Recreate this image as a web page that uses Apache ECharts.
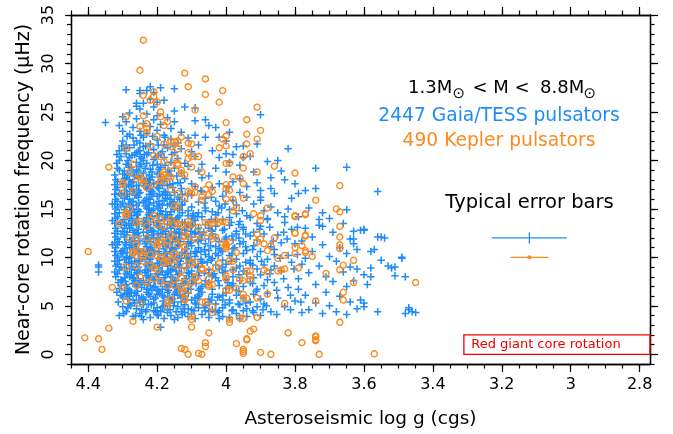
<!DOCTYPE html>
<html>
<head>
<meta charset="utf-8">
<script src="https://cdn.jsdelivr.net/npm/echarts@6/dist/echarts.min.js"></script>
<style>html,body{margin:0;padding:0;background:#fff}#main{width:673px;height:434px}</style>
</head>
<body>
<div id="main"></div>
<script>
// axis ranges and tick positions
var xRange = [2.77, 4.45];
var yRange = [-1, 35];
var xMajor = [2.8, 3, 3.2, 3.4, 3.6, 3.8, 4, 4.2, 4.4];
var xMinor = [2.8, 2.85, 2.9, 2.95, 3, 3.05, 3.1, 3.15, 3.2, 3.25, 3.3, 3.35, 3.4, 3.45, 3.5, 3.55, 3.6,
  3.65, 3.7, 3.75, 3.8, 3.85, 3.9, 3.95, 4, 4.05, 4.1, 4.15, 4.2, 4.25, 4.3, 4.35, 4.4, 4.45];
var yMajor = [0, 5, 10, 15, 20, 25, 30, 35];
var yMinor = [-1, 0, 1, 2, 3, 4, 5, 6, 7, 8, 9, 10, 11, 12, 13, 14, 15, 16, 17, 18, 19, 20, 21, 22, 23, 24,
  25, 26, 27, 28, 29, 30, 31, 32, 33, 34, 35];

// Gaia/TESS pulsators [log g, freq]
var tessPts = [
  // bottom edge
  [4.27,3.9],[4.25,4.2],[4.22,3.8],[4.2,4.1],[4.18,3.7],[4.16,4.0],[4.14,3.8],[4.12,4.3],[4.11,3.9],[4.09,3.7],
  [4.07,4.1],[4.05,3.8],[4.03,4.4],[4.01,3.9],[3.99,3.8],[3.97,4.2],[3.94,3.9],[3.92,4.3],[4.24,3.6],[4.19,4.4],
  [4.15,3.6],[4.13,4.4],[4.1,4.2],[4.06,4.5],[4.02,3.7],[3.96,3.7],[3.9,4.0],[4.29,4.4],[4.21,4.5],[4.17,4.3],
  [4.19,2.8],[4.31,4.0],[4.245,3.9],
  [4.3,4.9],[4.28,5.2],[4.26,4.7],[4.24,5.1],[4.23,4.6],[4.21,5.3],[4.2,4.8],[4.18,5.0],[4.17,4.6],[4.15,5.4],
  [4.14,4.9],[4.12,5.1],[4.11,4.7],[4.09,5.3],[4.08,4.8],[4.06,5.0],[4.04,4.6],[4.03,5.2],[4.01,4.8],[3.99,5.3],
  [3.98,4.6],[3.96,5.1],[3.94,4.7],[3.93,5.4],[3.91,4.9],[4.25,5.4],[4.19,4.5],[4.13,5.4],[4.1,4.6],[4.05,5.4],
  [4.02,4.5],[3.95,4.5],
  [4.3,5.9],[4.29,6.3],[4.27,5.6],[4.26,6.1],[4.24,5.8],[4.23,6.4],[4.21,5.7],[4.2,6.2],[4.18,5.9],[4.17,6.4],
  [4.16,5.6],[4.14,6.1],[4.13,5.8],[4.11,6.3],[4.1,5.6],[4.08,6.0],[4.07,6.4],[4.05,5.7],[4.04,6.2],[4.02,5.9],
  [4.0,6.3],[3.99,5.6],[3.97,6.1],[3.95,5.8],[3.92,6.2],[3.9,5.7],[4.28,6.0],[4.22,6.0],[4.15,6.2],[4.09,5.8],[4.01,5.6],
  [4.31,6.8],[4.29,7.2],[4.28,6.6],[4.26,7.0],[4.25,7.4],[4.23,6.7],[4.22,7.1],[4.2,6.6],[4.19,7.3],[4.17,6.9],
  [4.16,7.4],[4.14,6.6],[4.13,7.1],[4.11,6.8],[4.1,7.3],[4.08,6.6],[4.07,7.0],[4.05,7.4],[4.04,6.7],[4.02,7.1],
  [4.0,6.8],[3.98,7.3],[3.97,6.6],[3.95,7.0],[3.93,7.4],[3.91,6.7],[3.89,7.1],[4.27,7.3],[4.21,6.9],[4.15,7.0],
  [4.12,6.5],[4.06,7.2],[3.99,6.9],
  [4.32,8.0],[4.3,7.6],[4.29,8.3],[4.27,7.8],[4.26,8.4],[4.24,7.6],[4.23,8.1],[4.21,7.7],[4.2,8.3],[4.18,7.9],
  [4.17,8.4],[4.15,7.6],[4.14,8.2],[4.12,7.8],[4.11,8.4],[4.09,7.7],[4.08,8.1],[4.06,7.6],[4.05,8.3],[4.03,7.9],
  [4.01,8.4],[4.0,7.7],[3.98,8.0],[3.96,7.6],[3.94,8.3],[3.92,7.9],[3.9,8.2],[3.88,7.7],[4.28,8.0],[4.22,8.0],
  [4.16,8.0],[4.1,8.0],[4.04,8.1],
  [4.32,9.1],[4.31,8.7],[4.29,9.3],[4.28,8.8],[4.26,9.4],[4.25,8.6],[4.23,9.2],[4.22,8.8],[4.2,9.4],[4.19,8.6],
  [4.17,9.1],[4.16,8.7],[4.14,9.3],[4.13,8.9],[4.11,9.4],[4.1,8.6],[4.08,9.0],[4.07,9.4],[4.05,8.7],[4.03,9.2],
  [4.02,8.8],[4.0,9.3],[3.98,8.7],[3.96,9.1],[3.95,8.6],[3.93,9.4],[3.91,8.8],[3.89,9.2],[3.87,8.7],[4.27,9.0],
  [4.21,9.0],[4.15,9.0],[4.09,9.2],[4.01,9.0],[3.97,8.9],
  [4.32,10.2],[4.31,9.7],[4.3,10.4],[4.28,9.9],[4.27,10.3],[4.25,9.6],[4.24,10.1],[4.22,9.8],[4.21,10.4],[4.19,9.7],
  [4.18,10.2],[4.16,9.6],[4.15,10.3],[4.13,9.9],[4.12,10.4],[4.1,9.7],[4.09,10.1],[4.07,9.6],[4.06,10.3],[4.04,9.9],
  [4.03,10.4],[4.01,9.7],[3.99,10.2],[3.97,9.8],[3.95,10.4],[3.93,9.7],[3.91,10.1],[3.88,9.8],[3.86,10.3],[4.29,10.0],
  [4.23,10.0],[4.17,10.0],[4.11,10.0],[4.05,10.1],
  [4.32,11.0],[4.3,10.7],[4.29,11.3],[4.27,10.8],[4.26,11.4],[4.24,10.6],[4.23,11.1],[4.21,10.7],[4.2,11.3],[4.18,10.9],
  [4.17,11.4],[4.15,10.6],[4.14,11.2],[4.12,10.8],[4.11,11.4],[4.09,10.6],[4.08,11.0],[4.06,11.4],[4.05,10.7],[4.03,11.1],
  [4.01,10.6],[4.0,11.3],[3.98,10.9],[3.96,11.4],[3.94,10.7],[3.92,11.2],[3.9,10.6],[3.87,11.1],[4.28,11.0],[4.22,11.0],
  [4.16,11.0],[4.1,11.2],[4.02,10.9],
  [4.32,12.1],[4.31,11.6],[4.29,12.3],[4.28,11.8],[4.26,12.4],[4.25,11.7],[4.23,12.2],[4.22,11.6],[4.2,12.0],[4.19,12.4],
  [4.17,11.7],[4.16,12.2],[4.14,11.8],[4.13,12.4],[4.11,11.6],[4.1,12.1],[4.08,11.7],[4.07,12.3],[4.05,11.9],[4.04,12.4],
  [4.02,11.6],[4.0,12.1],[3.98,11.8],[3.97,12.4],[3.95,11.6],[3.93,12.2],[3.91,11.8],[3.89,12.4],[4.27,12.0],[4.21,12.0],
  [4.15,12.0],[4.09,12.4],[4.03,12.0],
  [4.32,13.0],[4.3,12.7],[4.29,13.3],[4.27,12.8],[4.26,13.4],[4.24,12.6],[4.23,13.1],[4.21,12.7],[4.2,13.3],[4.18,12.9],
  [4.17,13.4],[4.15,12.6],[4.14,13.2],[4.12,12.8],[4.11,13.4],[4.09,12.6],[4.08,13.0],[4.06,13.4],[4.04,12.7],[4.03,13.2],
  [4.01,12.8],[3.99,13.3],[3.97,12.7],[3.95,13.1],[3.92,12.6],[3.9,13.2],[4.28,13.0],[4.22,13.0],[4.16,13.0],[4.1,13.2],[4.05,13.0],
  [4.32,14.0],[4.3,13.6],[4.29,14.2],[4.27,13.8],[4.26,14.4],[4.24,13.7],[4.23,14.1],[4.21,13.6],[4.2,14.3],[4.18,13.9],
  [4.17,14.4],[4.15,13.7],[4.14,14.1],[4.12,13.6],[4.11,14.3],[4.09,13.8],[4.07,14.2],[4.05,13.6],[4.03,14.4],[4.01,13.9],
  [3.99,14.1],[3.96,13.7],[3.94,14.3],[4.28,14.0],[4.22,14.0],[4.16,14.0],[4.1,14.0],
  [4.32,15.0],[4.31,14.6],[4.29,15.2],[4.28,14.8],[4.26,15.4],[4.25,14.7],[4.23,15.1],[4.22,14.6],[4.2,15.3],[4.19,14.8],
  [4.17,15.4],[4.16,14.7],[4.14,15.0],[4.13,15.4],[4.11,14.8],[4.1,15.2],[4.08,14.6],[4.06,15.1],[4.04,14.7],[4.02,15.3],
  [3.99,14.9],[3.97,15.4],[4.27,15.0],[4.21,15.0],[4.15,14.9],
  [4.32,16.0],[4.3,15.6],[4.29,16.3],[4.27,15.8],[4.26,16.4],[4.24,15.7],[4.23,16.1],[4.21,15.6],[4.2,16.3],[4.18,15.9],
  [4.17,16.4],[4.15,15.7],[4.14,16.2],[4.12,15.8],[4.1,16.4],[4.08,15.7],[4.06,16.1],[4.03,15.8],[4.01,16.3],[4.28,16.0],
  [4.22,16.0],[4.16,16.0],
  [4.32,17.0],[4.31,16.6],[4.29,17.3],[4.28,16.8],[4.26,17.4],[4.25,16.7],[4.23,17.1],[4.21,16.6],[4.2,17.2],[4.18,16.8],
  [4.17,17.4],[4.15,16.7],[4.13,17.1],[4.11,16.6],[4.09,17.3],[4.07,16.8],[4.04,17.2],[4.27,17.0],[4.22,17.0],
  [4.32,18.0],[4.3,17.6],[4.29,18.2],[4.27,17.8],[4.26,18.4],[4.24,17.7],[4.23,18.1],[4.21,17.6],[4.19,18.3],[4.18,17.9],
  [4.16,18.4],[4.14,17.7],[4.12,18.1],[4.1,17.6],[4.07,18.2],[4.28,18.0],[4.22,18.0],
  [4.31,19.0],[4.3,18.6],[4.28,19.3],[4.27,18.8],[4.25,19.4],[4.24,18.7],[4.22,19.1],[4.2,18.6],[4.19,19.3],[4.17,18.8],
  [4.15,19.2],[4.13,18.7],[4.11,19.4],[4.08,18.9],[4.26,19.0],
  [4.31,20.0],[4.29,19.6],[4.28,20.3],[4.26,19.8],[4.25,20.4],[4.23,19.7],[4.21,20.1],[4.2,19.6],[4.18,20.3],[4.16,19.8],
  [4.14,20.2],[4.12,19.7],[4.09,20.4],[4.24,20.0],
  [4.31,21.0],[4.29,20.7],[4.28,21.3],[4.26,20.8],[4.24,21.4],[4.23,20.6],[4.21,21.1],[4.19,20.7],[4.17,21.3],[4.15,20.8],
  [4.13,21.2],[4.1,20.9],[4.25,21.0],
  [4.3,22.0],[4.29,21.6],[4.27,22.3],[4.25,21.8],[4.24,22.4],[4.22,21.7],[4.2,22.1],[4.18,21.6],[4.16,22.2],[4.14,21.8],
  [4.11,22.3],[4.26,22.0],
  // upper part of the cloud
  [4.3,23.0],[4.28,22.7],[4.27,23.4],[4.25,23.0],[4.23,22.8],[4.22,23.5],[4.2,23.1],[4.18,22.6],[4.16,23.3],[4.13,22.9],
  [4.29,24.0],[4.26,24.3],[4.24,23.8],[4.21,24.2],[4.19,23.7],[4.17,24.4],[4.28,24.9],[4.25,25.3],[4.23,24.8],[4.21,25.5],
  [4.2,24.6],[4.24,25.9],[4.22,26.3],[4.2,26.0],[4.25,26.9],[4.23,27.2],[4.22,27.6],[4.21,27.0],[4.29,27.3],[4.18,26.2],
  [4.15,25.1],[4.12,25.5],[4.31,23.6],[4.3,24.5],[4.26,25.6],[4.15,24.0],[4.09,24.1],[4.25,27.2],[4.26,25.9],[4.19,27.5],
  // second pass, densest part
  [4.305,6.1],[4.285,5.7],[4.265,6.3],[4.245,5.9],[4.225,6.2],[4.205,5.8],[4.185,6.1],[4.165,5.9],[4.145,6.4],[4.125,6.0],
  [4.275,6.4],[4.235,5.6],[4.195,6.5],[4.155,5.7],
  [4.305,7.1],[4.285,6.8],[4.265,7.3],[4.245,6.9],[4.225,7.4],[4.205,7.0],[4.185,6.7],[4.165,7.2],[4.145,6.9],[4.125,7.3],
  [4.295,6.6],[4.255,7.2],[4.215,6.6],[4.175,7.0],[4.135,6.8],
  [4.315,8.3],[4.295,7.9],[4.275,8.2],[4.255,7.8],[4.235,8.4],[4.215,8.0],[4.195,7.7],[4.175,8.2],[4.155,7.9],[4.135,8.3],
  [4.115,7.8],[4.305,7.7],[4.265,7.6],[4.225,7.9],[4.185,8.5],[4.145,7.6],
  [4.315,9.3],[4.295,8.9],[4.275,9.4],[4.255,9.0],[4.235,8.7],[4.215,9.3],[4.195,8.9],[4.175,9.4],[4.155,8.8],[4.135,9.2],
  [4.115,8.9],[4.305,9.0],[4.265,8.7],[4.225,9.1],[4.185,9.2],[4.145,8.6],
  [4.315,10.0],[4.295,9.8],[4.275,10.1],[4.255,10.4],[4.235,9.8],[4.215,10.2],[4.195,9.9],[4.175,10.4],[4.155,9.8],[4.135,10.2],
  [4.115,9.9],[4.305,10.4],[4.265,9.6],[4.225,10.3],[4.185,9.6],[4.145,10.0],
  [4.315,11.3],[4.295,10.9],[4.275,11.2],[4.255,10.8],[4.235,11.4],[4.215,11.0],[4.195,10.6],[4.175,11.1],[4.155,10.8],[4.135,11.3],
  [4.115,10.9],[4.305,10.6],[4.265,11.0],[4.225,10.7],[4.185,11.4],[4.145,11.0],
  [4.315,11.9],[4.295,12.1],[4.275,11.7],[4.255,12.2],[4.235,11.9],[4.215,12.3],[4.195,11.8],[4.175,12.1],[4.155,11.6],[4.135,12.0],
  [4.115,12.3],[4.305,12.4],[4.265,11.6],[4.225,12.0],[4.185,12.4],[4.145,11.9],
  [4.315,12.7],[4.295,13.0],[4.275,13.3],[4.255,12.9],[4.235,13.2],[4.215,12.8],[4.195,13.1],[4.175,12.7],[4.155,13.3],[4.135,12.9],
  [4.115,13.1],[4.305,13.4],[4.265,12.6],[4.225,13.4],[4.185,12.9],[4.145,12.6],
  [4.315,14.2],[4.295,13.9],[4.275,14.3],[4.255,14.0],[4.235,13.7],[4.215,14.2],[4.195,13.8],[4.175,14.1],[4.155,13.6],[4.135,14.3],
  [4.305,13.6],[4.265,13.6],[4.225,14.4],[4.185,14.4],[4.145,13.9],
  [4.315,15.2],[4.295,14.9],[4.275,15.3],[4.255,14.9],[4.235,15.3],[4.215,14.8],[4.195,15.1],[4.175,14.7],[4.155,15.3],[4.135,14.9],
  [4.305,15.4],[4.265,14.6],[4.225,15.0],[4.185,15.4],
  [4.315,15.8],[4.295,16.1],[4.275,15.7],[4.255,16.2],[4.235,15.9],[4.215,16.3],[4.195,15.8],[4.175,16.1],[4.155,15.6],[4.135,16.0],
  [4.305,16.4],[4.265,16.4],[4.225,15.6],[4.185,16.4],
  [4.315,17.2],[4.295,16.9],[4.275,17.3],[4.255,16.9],[4.235,17.3],[4.215,16.8],[4.195,17.1],[4.175,16.7],[4.155,17.2],[4.305,16.6],
  [4.265,16.6],[4.225,17.4],[4.185,17.4],
  [4.315,17.8],[4.295,18.1],[4.275,17.7],[4.255,18.2],[4.235,17.9],[4.215,18.3],[4.195,17.8],[4.175,18.1],[4.155,17.6],[4.265,18.4],[4.225,17.6],
  [4.315,19.2],[4.295,18.9],[4.275,19.3],[4.255,18.9],[4.235,19.2],[4.215,18.8],[4.195,19.1],[4.165,18.9],[4.285,18.6],
  [4.305,20.4],[4.285,20.0],[4.265,20.6],[4.245,20.2],[4.225,20.8],[4.205,20.3],[4.185,20.9],[4.295,21.2],[4.255,21.0],
  [4.285,4.8],[4.245,4.6],[4.225,5.2],[4.185,4.9],[4.165,5.3],[4.125,4.7],[4.265,5.3],[4.205,4.4],[4.145,4.4],
  [4.075,6.8],[4.055,9.5],[4.035,8.3],[4.015,10.7],[3.995,7.4],[4.065,12.6],[4.045,11.2],[4.025,5.9],[4.005,12.9],[3.985,9.6],
  [4.085,10.5],[4.06,14.8],[4.03,13.7],[3.975,11.0],[3.965,5.2],[4.095,7.6],[4.095,14.5],[4.05,4.4],[4.01,6.1],[3.985,13.6],
  // third pass, core
  [4.297,4.2],[4.263,4.0],[4.233,4.4],[4.197,4.0],[4.163,4.6],[4.127,4.1],[4.093,4.5],
  [4.313,5.4],[4.277,5.0],[4.253,5.6],[4.217,5.1],[4.183,5.5],[4.153,5.0],[4.117,5.6],[4.087,5.2],
  [4.317,6.4],[4.287,6.2],[4.257,6.5],[4.227,6.7],[4.193,6.3],[4.167,6.6],[4.133,6.2],[4.103,6.7],[4.077,6.2],
  [4.313,7.4],[4.293,7.5],[4.267,7.9],[4.237,7.2],[4.207,7.6],[4.177,7.5],[4.147,7.3],[4.117,7.5],[4.087,7.3],
  [4.323,8.5],[4.287,8.5],[4.257,8.3],[4.227,8.6],[4.197,8.2],[4.167,8.6],[4.137,8.5],[4.107,8.3],[4.077,8.5],
  [4.323,9.6],[4.283,9.5],[4.253,9.7],[4.223,9.5],[4.193,9.4],[4.163,9.5],[4.133,9.6],[4.103,9.5],[4.073,9.8],
  [4.323,10.6],[4.287,10.5],[4.253,10.6],[4.227,10.5],[4.197,10.4],[4.163,10.6],[4.127,10.5],[4.103,10.4],[4.073,10.6],
  [4.323,11.5],[4.293,11.5],[4.263,11.4],[4.233,11.6],[4.203,11.5],[4.167,11.5],[4.133,11.6],[4.103,11.5],[4.073,11.8],
  [4.323,12.5],[4.287,12.6],[4.257,12.5],[4.227,12.6],[4.197,12.5],[4.167,12.4],[4.137,12.5],[4.103,12.7],[4.077,12.4],
  [4.323,13.5],[4.283,13.5],[4.253,13.4],[4.227,13.6],[4.193,13.5],[4.163,13.4],[4.127,13.6],[4.097,13.4],
  [4.323,14.5],[4.287,14.5],[4.257,14.4],[4.223,14.6],[4.193,14.5],[4.163,14.4],[4.127,14.6],[4.097,14.3],
  [4.323,15.5],[4.283,15.5],[4.253,15.6],[4.223,15.4],[4.193,15.5],[4.163,15.5],[4.127,15.4],
  [4.323,16.5],[4.287,16.5],[4.253,16.6],[4.223,16.5],[4.193,16.5],[4.163,16.4],[4.127,16.5],
  [4.323,17.5],[4.283,17.5],[4.253,17.4],[4.223,17.6],[4.193,17.5],[4.163,17.5],[4.133,17.7],
  [4.323,18.5],[4.287,18.5],[4.253,18.4],[4.223,18.5],[4.193,18.6],[4.143,18.4],
  [4.317,19.7],[4.283,19.5],[4.247,19.6],[4.213,19.5],[4.177,19.5],[4.317,20.6],[4.273,20.5],[4.237,20.6],[4.197,20.5],[4.157,20.6],
  [4.303,21.5],[4.267,21.6],[4.233,21.5],[4.197,21.6],[4.153,21.5],[4.287,22.5],[4.247,22.6],[4.213,22.5],[4.177,22.4],
  // next to the core
  [4.083,5.8],[4.063,4.8],[4.043,5.6],[4.023,4.3],[4.003,5.1],[3.983,4.5],[3.963,6.5],[3.943,5.3],[3.923,4.5],
  [4.083,9.0],[4.063,8.4],[4.043,9.7],[4.023,7.6],[4.003,8.6],[3.983,7.1],[3.963,8.2],[3.943,9.5],[3.923,7.3],
  [4.083,11.8],[4.063,10.8],[4.043,12.8],[4.023,10.2],[4.003,11.9],[3.983,10.4],[3.963,12.0],[3.943,11.1],[3.923,9.2],
  [4.083,14.2],[4.063,15.6],[4.043,13.9],[4.023,14.6],[4.003,15.5],[3.983,12.2],[3.963,13.4],[3.943,12.4],[3.923,10.8],
  [4.073,16.9],[4.043,16.2],[4.013,15.1],[3.993,17.3],[3.953,14.8],
  [3.913,6.5],[3.897,9.6],[3.883,5.0],[3.873,8.3],[3.863,11.7],[3.853,6.6],[3.843,9.9],[3.833,7.8],[3.823,11.9],[3.813,6.1],
  [3.803,8.8],[3.793,10.3],[3.783,5.4],[3.903,12.9],[3.873,13.1],[3.853,4.1],[3.833,12.6],[3.793,13.1],[3.813,4.6],[3.893,4.6],
  // upper middle, sparse
  [4.08,21.6],[4.06,22.4],[4.04,21.0],[4.03,23.4],[4.02,20.3],[4.0,22.0],[3.98,20.6],[3.97,21.4],[3.96,19.5],[3.95,21.5],
  [3.93,20.4],[3.92,18.8],[3.91,21.7],[3.9,24.7],[3.88,19.9],[3.87,18.2],[3.85,20.0],[3.84,18.9],[3.83,18.0],[3.82,21.2],
  [3.8,17.6],[4.07,19.6],[4.05,18.4],[4.03,19.2],[4.0,18.8],[3.98,17.8],[3.96,18.1],[3.94,17.3],[3.91,17.7],[4.06,24.2],
  [4.05,23.6],[4.09,25.4],[4.15,27.4],[3.86,16.6],[3.79,16.6],[3.74,17.1],[3.74,19.2],[3.65,19.3],[3.56,16.8],[4.09,22.6],
  [3.99,22.9],[4.02,22.4],[4.0,20.7],[3.95,20.3],[3.99,19.8],[3.87,17.1],[3.9,16.9],[3.9,16.2],[3.77,16.9],[3.82,15.0],
  // middle
  [3.89,5.2],[3.88,6.3],[3.87,4.4],[3.86,7.4],[3.85,5.8],[3.84,8.6],[3.83,4.9],[3.82,6.9],[3.81,9.5],[3.8,5.5],
  [3.79,7.8],[3.78,4.3],[3.86,10.8],[3.85,12.3],[3.84,11.5],[3.83,13.6],[3.82,10.2],[3.81,12.9],[3.8,11.4],[3.79,14.2],
  [3.78,9.3],[3.88,13.9],[3.87,15.2],[3.85,14.6],[3.83,14.2],[3.81,16.1],[3.89,14.8],[3.92,15.5],[3.94,16.2],[3.96,16.7],
  [3.98,15.9],[4.0,16.8],[4.02,17.6],[3.93,14.1],[3.91,13.5],[3.9,15.9],[3.95,12.9],[3.97,14.5],[3.88,14.0],[3.86,9.1],
  // right side
  [3.77,6.1],[3.76,8.4],[3.76,4.6],[3.75,10.6],[3.75,12.1],[3.74,5.3],[3.74,7.2],[3.73,9.1],[3.73,13.9],[3.72,4.2],
  [3.72,11.3],[3.72,14.6],[3.72,13.2],[3.71,6.4],[3.71,8.0],[3.7,10.1],[3.7,5.0],[3.69,12.6],[3.69,7.5],[3.68,9.6],
  [3.68,4.4],[3.67,11.0],[3.67,6.0],[3.66,8.5],[3.66,13.5],[3.65,4.1],[3.65,10.4],[3.65,7.0],[3.64,5.4],[3.64,11.9],
  [3.64,9.0],[3.63,11.4],[3.63,12.7],[3.63,7.6],[3.62,4.7],[3.62,8.8],[3.62,10.8],[3.61,5.6],[3.61,12.8],[3.6,12.9],
  [3.6,4.9],[3.6,8.2],[3.65,14.9],[3.77,13.0],[3.76,15.1],[3.78,11.7],[3.77,9.9],[3.79,6.7],[3.7,14.0],[3.73,13.3],
  [3.6,5.3],[3.58,8.9],[3.58,8.0],[3.58,10.6],[3.57,10.8],[3.56,12.1],[3.55,12.1],[3.55,9.7],[3.56,4.4],[3.53,9.1],
  [3.52,8.9],[3.51,9.0],[3.51,8.1],[3.49,9.9],[3.48,8.0],[3.48,4.2],[3.47,4.6],[3.46,4.4],[3.45,4.3],[3.47,4.8],
  [3.49,10.0],[3.54,12.0],[3.59,7.2],[3.6,12.8],[3.63,11.9],
  // left outliers
  [4.37,9.0],[4.37,8.5],[4.35,23.9],[4.33,15.5],[4.33,13.8],[4.33,11.3],[4.37,9.2]
];

// Kepler pulsators [log g, freq]
var keplerPts = [
  [4.24,32.4],[4.25,29.3],[4.12,29.0],[4.06,28.4],[4.11,27.6],[4.01,27.2],[4.06,26.8],[4.02,26.0],[3.91,25.5],[4.09,25.2],
  [4.21,27.1],[4.21,26.6],[4.22,26.2],[4.2,26.0],[4.24,26.7],[4.19,25.0],[4.19,24.5],[4.29,24.5],[4.24,24.6],
  [3.94,24.2],[4.0,23.9],[4.23,23.8],[4.23,23.3],[4.23,22.9],[4.18,23.6],[4.25,23.5],[4.17,24.0],[3.9,23.1],[3.94,22.7],
  [4.0,22.5],[4.2,22.5],[4.13,22.4],[3.91,22.2],[4.14,22.0],[4.15,21.9],[4.16,22.0],[4.01,22.2],[3.94,21.7],[4.1,21.7],
  [4.11,21.8],[4.18,21.7],[4.29,21.2],[4.22,21.5],[4.0,21.5],[4.02,21.3],[4.16,21.4],[4.14,21.2],[4.11,20.8],[3.93,20.7],
  [4.1,20.4],[3.95,20.4],[4.21,20.5],[4.15,20.3],[3.86,19.4],[4.34,19.3],[4.0,19.7],[4.27,19.6],[4.14,19.5],[3.95,19.2],
  [3.8,18.7],[3.91,18.8],[4.28,18.8],[4.18,18.8],[4.19,18.4],[4.13,19.0],[4.13,18.7],[4.12,18.5],[4.25,18.3],[4.24,18.0],
  [4.26,18.1],[3.98,18.3],[3.96,18.2],[3.67,17.4],[3.74,15.9],[4.0,17.5],[4.0,17.1],[3.99,16.9],[4.05,17.5],[4.06,17.0],
  [4.04,16.8],[4.05,16.5],[4.07,16.3],[4.1,16.6],[4.09,16.7],[4.3,17.5],[4.3,16.6],[3.98,16.0],[4.07,15.9],[3.88,15.1],
  [3.68,15.0],[3.97,15.1],[3.98,14.8],[4.08,20.4],[3.99,19.7],[3.95,17.6],[3.95,16.1],[4.0,16.0],[3.8,14.2],[3.77,14.4],
  [3.92,14.5],[3.9,13.8],[3.8,12.5],[3.77,12.3],[3.8,11.0],[3.77,10.7],[3.89,11.4],[3.88,10.7],
  [4.3,17.7],[4.24,17.6],[4.27,16.8],[4.23,17.2],[4.21,17.5],[4.19,17.9],[4.17,18.2],[4.16,18.3],
  [4.19,20.4],[4.18,19.9],[4.16,19.4],[4.14,19.7],[4.11,20.2],[4.1,19.3],[4.07,18.8],[4.18,18.5],[4.18,17.8],
  [4.16,17.0],[4.14,16.6],[4.12,16.1],[4.11,16.8],[4.09,17.3],[4.15,15.3],[4.14,15.2],
  [4.28,15.0],[4.29,14.6],[4.29,14.4],[4.31,13.5],[4.26,13.6],[4.25,13.7],[4.23,13.2],[4.21,14.3],[4.19,14.0],[4.2,13.4],
  [4.18,13.2],[4.17,13.6],[4.16,13.9],[4.15,13.4],[4.13,13.3],[4.12,12.8],[4.11,13.3],
  [4.26,11.9],[4.26,11.3],[4.23,12.0],[4.21,11.6],[4.2,11.3],[4.19,11.6],[4.17,11.2],[4.15,12.0],[4.13,11.6],[4.12,11.1],
  [4.11,12.1],[4.27,10.4],[4.25,10.6],[4.24,10.2],[4.22,10.3],[4.2,10.1],[4.19,10.0],[4.17,10.2],[4.15,10.4],[4.14,10.1],
  [4.12,10.6],[4.11,9.9],[4.18,9.5],[4.16,9.7],[4.15,9.2],
  [4.29,14.3],[4.22,13.9],[4.14,13.5],[4.11,13.7],[4.1,13.4],[4.08,13.1],[4.06,13.6],[4.05,13.5],[4.02,13.6],[4.0,13.6],
  [4.28,12.0],[4.27,10.6],[4.26,10.2],[4.24,10.6],[4.2,11.0],[4.19,12.0],[4.17,11.7],[4.16,12.3],[4.14,11.3],[4.12,12.2],
  [4.09,11.9],[4.07,12.2],[4.05,12.5],[4.04,11.9],[4.03,12.1],[4.01,11.5],[3.99,11.6],[4.0,11.4],
  [4.29,9.0],[4.26,9.1],[4.24,9.6],[4.22,9.2],[4.21,8.9],[4.2,8.7],[4.18,9.4],[4.17,9.6],[4.13,8.6],[4.12,9.1],
  [4.1,9.3],[4.09,9.5],[4.07,8.9],[4.05,8.6],[4.03,8.9],[4.02,9.4],[3.99,9.7],[3.98,9.6],
  [4.25,8.0],[4.23,7.4],[4.21,7.8],[4.19,7.5],[4.15,7.7],[4.13,7.9],[4.12,7.4],[4.09,8.0],[4.08,7.6],[4.05,7.2],
  [4.4,10.6],[4.33,6.9],[4.3,6.9],[4.26,7.1],[4.29,5.5],[4.25,5.2],[4.27,3.4],[4.34,2.7],[4.41,1.7],[4.37,1.6],
  [4.36,0.5],[4.2,2.8],[4.17,5.0],[4.16,5.7],[4.17,5.4],[4.17,7.1],[4.15,7.1],[4.13,6.8],[4.13,6.45],[4.11,6.6],
  [4.12,5.8],[4.12,5.6],[4.07,5.4],[4.04,4.9],[4.04,4.3],
  [4.13,0.6],[4.12,0.5],[4.11,0.0],[4.08,0.1],[4.07,0.0],[4.1,3.6],[4.1,3.9],[4.1,2.8],[4.05,2.2],[4.06,1.2],
  [4.06,0.8],[3.99,3.6],[3.99,3.3],[3.97,1.1],[3.95,0.5],[3.95,0.3],[3.95,0.1],[3.93,2.4],[3.92,2.6],[3.94,1.6],
  [3.94,1.5],[3.9,0.2],[3.87,0.0],[3.82,2.2],[3.78,1.2],[3.74,1.9],[3.74,1.5],[3.73,0.0],[3.57,0.05],
  [3.96,3.75],[3.95,3.7],[3.91,3.8],[3.88,6.2],[3.91,5.8],[3.95,5.8],[3.94,5.8],[3.95,6.2],[3.83,5.25],[3.74,5.5],
  [3.97,6.8],[3.99,6.6],[4.0,6.6],[4.06,5.4],
  [4.09,7.9],[4.1,7.4],[4.07,8.7],[4.05,7.8],[4.04,7.2],[4.05,7.0],[3.96,7.8],[3.95,7.6],[3.93,8.1],[3.93,7.7],
  [3.94,8.6],[3.93,8.6],[3.89,8.7],[3.88,8.5],[3.85,8.6],[4.0,8.1],[4.0,7.8],[3.98,8.7],
  [3.91,12.4],[3.9,11.9],[3.91,11.6],[3.86,12.0],[3.87,11.2],[3.85,9.9],[3.83,8.8],[3.84,8.7],[3.83,10.2],[3.8,12.5],
  [3.77,12.2],[3.78,11.2],[3.77,10.5],[3.75,10.1],[3.8,10.4],[3.79,8.9],[3.71,8.35],[3.67,8.7],
  [3.9,14.3],[3.8,14.3],[3.77,14.5],[3.67,14.7],[3.67,13.2],[3.67,12.1],[3.67,11.3],[3.67,10.9],[3.63,9.7],[3.66,9.2],
  [3.63,7.4],[3.45,7.4],[3.66,6.4],[3.66,5.6],[3.67,3.3],[3.74,1.8],[3.74,1.4],
  [4.04,13.5],[4.03,13.8],[4.01,13.7],[4.0,11.3],[4.0,11.1],[4.0,10.9],[3.97,10.5]
];

// typical error bars: [log g, freq, half width in log g, half height in freq]
var errTess = [[3.12, 12.0, 0.109, 0.58]];
var errKepler = [[3.12, 10.0, 0.055, 0]];
// red giant region corners
var rgBox = [[3.31, 0], [2.77, 2]];

var blue = '#1e8cfa', orange = '#fb8a1e', red = '#ee0000';
var font = 'DejaVu Sans';
var plus = 'path://M0,4H10V6H0Z M4,0H6V10H4Z';

function xAx(pos, ticks, len, lab) {
  return {
    type: 'value', position: pos, inverse: true, min: xRange[0], max: xRange[1],
    splitLine: {show: false},
    axisLine: {show: true, onZero: false, lineStyle: {color: '#000', width: 1.3}},
    axisTick: {show: true, inside: false, length: len, customValues: ticks, lineStyle: {color: '#000', width: 1.2}},
    axisLabel: {show: lab, customValues: xMajor, margin: 13, color: '#000', fontSize: 16, fontFamily: font,
      formatter: function (v) { return String(+v.toFixed(2)); }}
  };
}
function yAx(pos, ticks, len, lab) {
  return {
    type: 'value', position: pos, min: yRange[0], max: yRange[1],
    splitLine: {show: false},
    axisLine: {show: true, onZero: false, lineStyle: {color: '#000', width: 1.3}},
    axisTick: {show: true, inside: false, length: len, customValues: ticks, lineStyle: {color: '#000', width: 1.2}},
    axisLabel: {show: lab, customValues: yMajor, rotate: 90, margin: 14, color: '#000', fontSize: 16, fontFamily: font}
  };
}

function errRender(col, dot) {
  return function (params, api) {
    var x = api.value(0), y = api.value(1), dx = api.value(2), dy = api.value(3);
    var a = api.coord([x - dx, y]), b = api.coord([x + dx, y]);
    var kids = [{type: 'line', shape: {x1: a[0], y1: a[1], x2: b[0], y2: b[1]}, style: {stroke: col, lineWidth: 1.3}}];
    if (dy > 0) {
      var t = api.coord([x, y + dy]), u = api.coord([x, y - dy]);
      kids.push({type: 'line', shape: {x1: t[0], y1: t[1], x2: u[0], y2: u[1]}, style: {stroke: col, lineWidth: 1.3}});
    }
    if (dot) {
      var c = api.coord([x, y]);
      kids.push({type: 'circle', shape: {cx: c[0], cy: c[1], r: 2}, style: {fill: col}});
    }
    return {type: 'group', children: kids};
  };
}

var xBottom = xAx('bottom', xMajor, 8, true);
xBottom.name = 'Asteroseismic log g (cgs)';
xBottom.nameLocation = 'middle';
xBottom.nameGap = 46;
xBottom.nameTextStyle = {fontSize: 18.5, fontFamily: font, color: '#000'};
var yLeft = yAx('left', yMajor, 6, true);
yLeft.name = 'Near-core rotation frequency (\u03bcHz)';
yLeft.nameLocation = 'middle';
yLeft.nameGap = 36.5;
yLeft.nameTextStyle = {fontSize: 19, fontFamily: font, color: '#000'};

var txt = function (s, x, y, size, col, align) {
  return {type: 'text', x: x, y: y, silent: true, z: 10,
    style: {text: s, fill: col, font: size + 'px "' + font + '"', align: align || 'center', verticalAlign: 'middle'}};
};

var chart = echarts.init(document.getElementById('main'), null, {renderer: 'canvas'});
chart.setOption({
  animation: false,
  backgroundColor: '#fff',
  grid: {left: 71, right: 23, top: 15, bottom: 70, containLabel: false},
  xAxis: [xBottom, xAx('bottom', xMinor, 4.5, false), xAx('top', xMajor, 8, false), xAx('top', xMinor, 4.5, false)],
  yAxis: [yLeft, yAx('left', yMinor, 4, false), yAx('right', yMajor, 8, false), yAx('right', yMinor, 4.5, false)],
  series: [
    {type: 'scatter', data: tessPts, symbol: plus, symbolSize: 7.5, itemStyle: {color: blue, opacity: 1},
      progressive: 0, z: 2, silent: true},
    {type: 'scatter', data: keplerPts, symbol: 'circle', symbolSize: 6, progressive: 0, z: 3, silent: true,
      itemStyle: {color: 'rgba(0,0,0,0)', borderColor: orange, borderWidth: 1.4, opacity: 1}},
    {type: 'custom', data: errTess, renderItem: errRender(blue, false), z: 4, silent: true,
      markArea: {silent: true,
        itemStyle: {color: 'rgba(0,0,0,0)', borderColor: red, borderWidth: 1.3},
        label: {show: true, position: 'insideLeft', distance: 8, color: red, fontSize: 13, fontFamily: font},
        data: [[{name: 'Red giant core rotation', coord: rgBox[0]}, {coord: rgBox[1]}]]}},
    {type: 'custom', data: errKepler, renderItem: errRender(orange, true), z: 4, silent: true}
  ],
  graphic: [
    txt('1.3M', 408, 88.5, 18, '#000', 'left'),
    txt('\u2299', 452.5, 94.5, 15, '#000', 'left'),
    txt('< M <', 501, 88.5, 18, '#000', 'center'),
    txt('8.8M', 540, 88.5, 18, '#000', 'left'),
    txt('\u2299', 583.5, 94.5, 15, '#000', 'left'),
    txt('2447 Gaia/TESS pulsators', 499, 116.5, 18.7, blue),
    txt('490 Kepler pulsators', 499, 141, 18.7, orange),
    txt('Typical error bars', 529.5, 203, 19.5, '#000')
  ]
});
</script>
</body>
</html>
